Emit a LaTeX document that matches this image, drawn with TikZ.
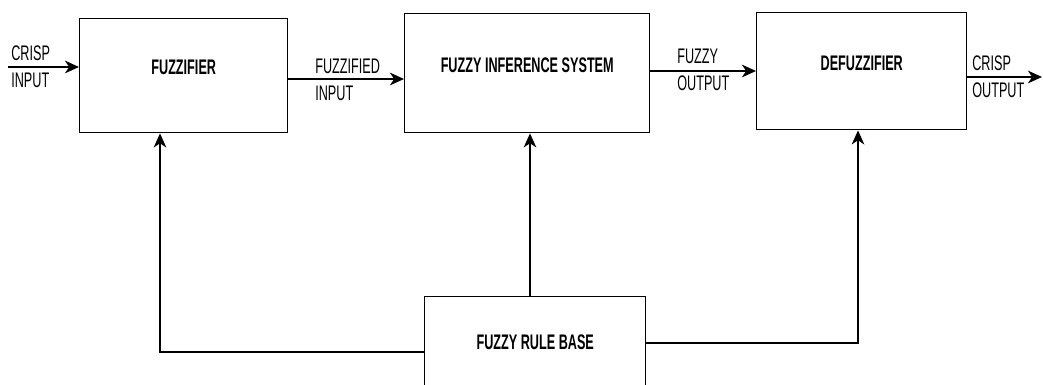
\documentclass[tikz,border=0pt]{standalone}
\usepackage{fontspec}
\newfontfamily\condfont[FakeStretch=0.6]{Liberation Sans}
\usepackage{tikz}
\usetikzlibrary{positioning, arrows.meta}
\tikzset{
  blockbox/.style={draw, line width=1pt, anchor=north west, inner sep=0pt,
    font=\condfont\bfseries\fontsize{15}{17}\selectfont, text height=0.38cm, text depth=0.43cm},
  sigtxt/.style={anchor=west, align=left, inner sep=0pt,
    font=\condfont\fontsize{15}{19.2}\selectfont},
  arr/.style={-{Stealth[length=10pt, width=9pt, inset=3pt]}, line width=1pt},
}

\begin{document}
\begin{tikzpicture}[x=0.025cm, y=-0.025cm]
  \path[use as bounding box, clip] (0,0) rectangle (1043,385);
  \node[blockbox, minimum width=5.2cm, minimum height=2.85cm] (fz) at (79,18) {FUZZIFIER};
  \node[blockbox, minimum width=6.125cm, minimum height=2.975cm] (fis) at (404,13) {FUZZY INFERENCE SYSTEM};
  \node[blockbox, minimum width=5.25cm, minimum height=2.925cm] (dfz) at (756,12) {DEFUZZIFIER};
  \node[blockbox, minimum width=5.525cm, minimum height=2.6cm, text depth=0.33cm] (rb) at (424,296) {FUZZY RULE BASE};

  \coordinate (in) at (8,67);
  \coordinate (y1) at (0,79);
  \coordinate (y2) at (0,71);
  \coordinate (y3) at (0,77);
  \coordinate (out) at (1042,77);
  \coordinate (c1) at (160,352);
  \coordinate (c2) at (530,0);
  \coordinate (c3) at (858,343);

  \node[sigtxt] (lin) at (11,67) {CRISP\\INPUT};
  \node[sigtxt] (lfi) at (315,80) {FUZZIFIED\\INPUT};
  \node[sigtxt] (lfo) at (677,70) {FUZZY\\OUTPUT};
  \node[sigtxt] (lout) at (972,77) {CRISP\\OUTPUT};

  \draw[arr] (in) -- (in -| fz.west);
  \draw[arr] (fz.east |- y1) -- (fis.west |- y1);
  \draw[arr] (fis.east |- y2) -- (dfz.west |- y2);
  \draw[arr] (dfz.east |- y3) -- (out);

  \draw[arr] (rb.west |- c1) -- (c1) -- (c1 |- fz.south);
  \draw[arr] (rb.north -| c2) -- (c2 |- fis.south);
  \draw[arr] (rb.east |- c3) -- (c3) -- (c3 |- dfz.south);
\end{tikzpicture}
\end{document}
